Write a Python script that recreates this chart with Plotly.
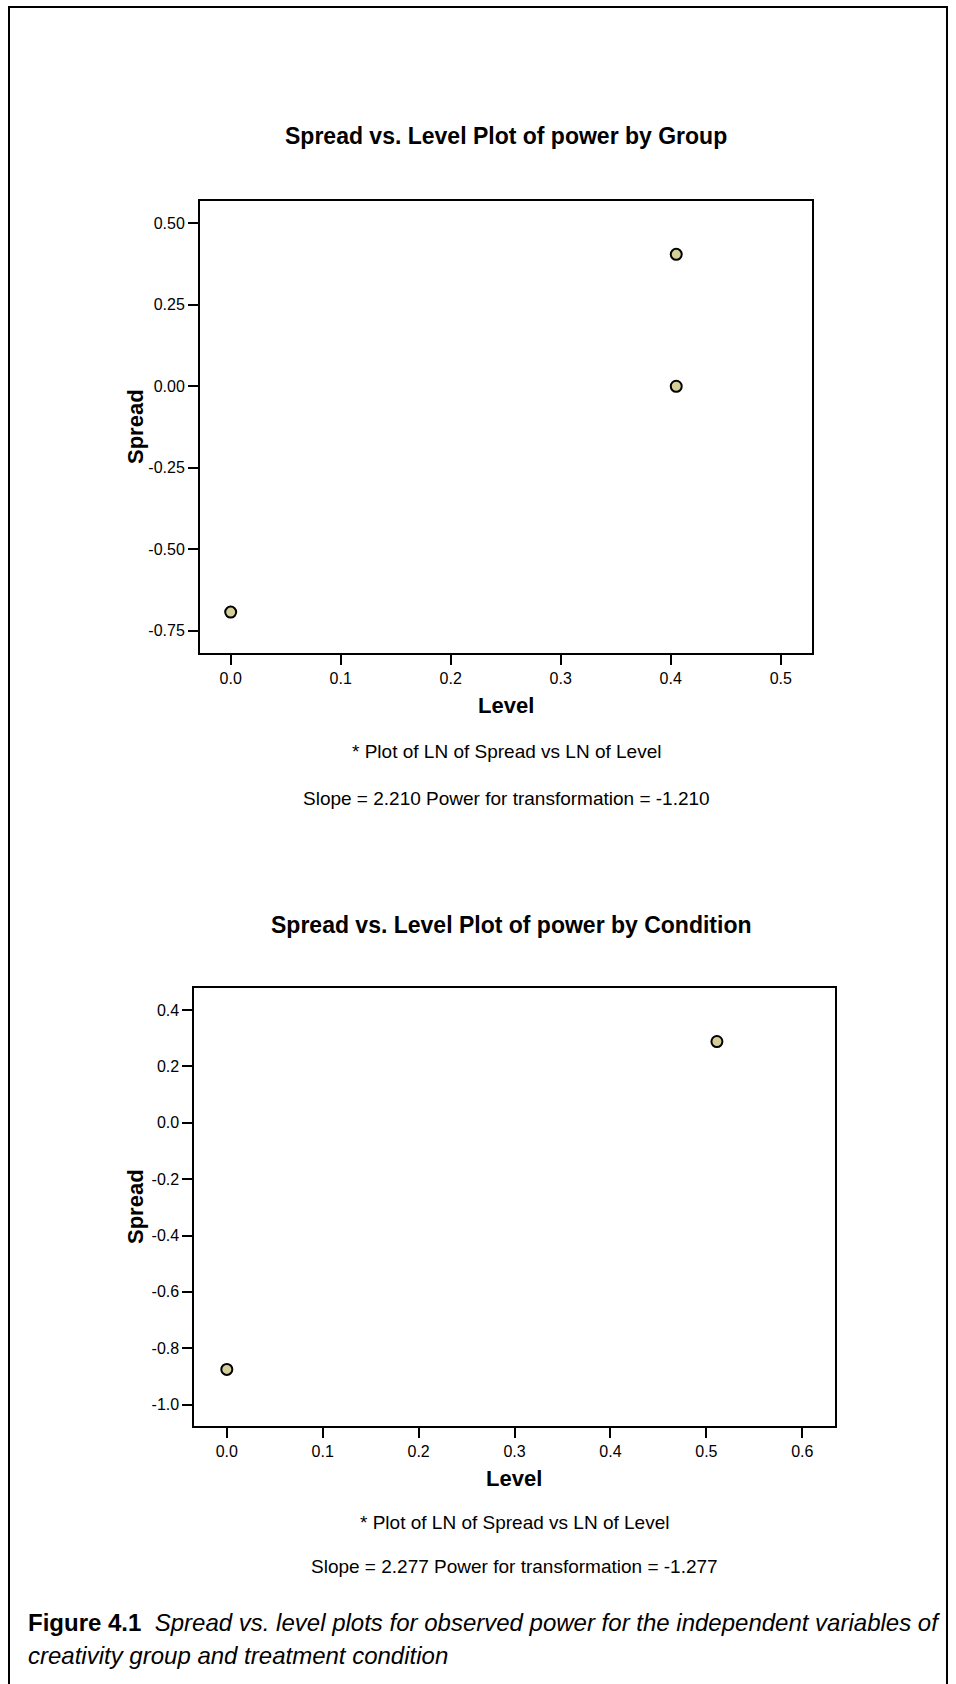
import plotly.graph_objects as go

W, H = 956, 1684

# ---- data ----
group_level = [0.000, 0.405, 0.405]
group_spread = [-0.693, 0.405, 0.000]
cond_level = [0.000, 0.511]
cond_spread = [-0.875, 0.288]

top_x_ticks = [0.0, 0.1, 0.2, 0.3, 0.4, 0.5]
top_x_text = ["0.0", "0.1", "0.2", "0.3", "0.4", "0.5"]
top_y_ticks = [0.50, 0.25, 0.00, -0.25, -0.50, -0.75]
top_y_text = ["0.50", "0.25", "0.00", "-0.25", "-0.50", "-0.75"]

bot_x_ticks = [0.0, 0.1, 0.2, 0.3, 0.4, 0.5, 0.6]
bot_x_text = ["0.0", "0.1", "0.2", "0.3", "0.4", "0.5", "0.6"]
bot_y_ticks = [0.4, 0.2, 0.0, -0.2, -0.4, -0.6, -0.8, -1.0]
bot_y_text = ["0.4", "0.2", "0.0", "-0.2", "-0.4", "-0.6", "-0.8", "-1.0"]

title_top = "Spread vs. Level Plot of power by Group"
title_bot = "Spread vs. Level Plot of power by Condition"
note_ln = "* Plot of LN of Spread vs LN of Level"
slope_top = "Slope = 2.210 Power for transformation = -1.210"
slope_bot = "Slope = 2.277 Power for transformation = -1.277"
caption1 = "<b>Figure 4.1</b>  <i>Spread vs. level plots for observed power for the independent variables of</i>"
caption2 = "<i>creativity group and treatment condition</i>"

FONT = "Arial, Liberation Sans, sans-serif"
MARKER_FILL = "#D6CE98"


def px(x):
    return x / W


def py(y):
    return 1 - y / H


fig = go.Figure()
fig.add_trace(go.Scatter(x=group_level, y=group_spread, mode="markers",
                         marker=dict(size=11, color=MARKER_FILL, line=dict(color="black", width=2)),
                         xaxis="x", yaxis="y", showlegend=False))
fig.add_trace(go.Scatter(x=cond_level, y=cond_spread, mode="markers",
                         marker=dict(size=11, color=MARKER_FILL, line=dict(color="black", width=2)),
                         xaxis="x2", yaxis="y2", showlegend=False))

axis_common = dict(showline=True, linecolor="black", linewidth=2, mirror=True,
                   showgrid=False, zeroline=False, ticks="outside", ticklen=10,
                   tickwidth=2, tickcolor="black",
                   tickfont=dict(family=FONT, size=16, color="black"))

fig.update_layout(
    width=W, height=H, margin=dict(l=0, r=0, t=0, b=0),
    paper_bgcolor="white", plot_bgcolor="white",
    xaxis=dict(domain=[px(200), px(812)], range=[-0.0279, 0.5284], anchor="y",
               tickvals=top_x_ticks, ticktext=top_x_text, **axis_common),
    yaxis=dict(domain=[py(652.7), py(200.7)], range=[-0.8176, 0.5696], anchor="x",
               tickvals=top_y_ticks, ticktext=top_y_text, **axis_common),
    xaxis2=dict(domain=[px(194.4), px(834.7)], range=[-0.0338, 0.6338], anchor="y2",
                tickvals=bot_x_ticks, ticktext=bot_x_text, **axis_common),
    yaxis2=dict(domain=[py(1426), py(987.7)], range=[-1.0757, 0.479], anchor="x2",
                tickvals=bot_y_ticks, ticktext=bot_y_text, **axis_common),
)

ann = []


def text(s, x, y, size, bold=False, xanchor="center", angle=0):
    ann.append(dict(text=("<b>%s</b>" % s) if bold else s, x=px(x), y=py(y),
                    xref="paper", yref="paper", showarrow=False,
                    xanchor=xanchor, yanchor="middle", textangle=angle,
                    font=dict(family=FONT, size=size, color="black")))


# top chart texts
text(title_top, 506, 136, 23, bold=True)
text("Spread", 135, 427, 22, bold=True, angle=-90)
text("Level", 506, 706, 22, bold=True)
text(note_ln, 506, 751, 19)
text(slope_top, 506, 798, 19)

# bottom chart texts
text(title_bot, 512, 925, 23, bold=True)
text("Spread", 135, 1207, 22, bold=True, angle=-90)
text("Level", 514, 1478, 22, bold=True)
text(note_ln, 514, 1522, 19)
text(slope_bot, 514, 1566, 19)

# caption
text(caption1, 26, 1622, 24, xanchor="left")
text(caption2, 26, 1655, 24, xanchor="left")

fig.update_layout(annotations=ann)

fig.add_shape(type="rect", xref="paper", yref="paper",
              x0=px(9), x1=px(947), y0=-0.02, y1=py(7),
              line=dict(color="black", width=2), fillcolor="rgba(0,0,0,0)", layer="above")

fig.write_html("out.html", config={"displayModeBar": False},
               post_script="document.body.style.margin='0px';")
